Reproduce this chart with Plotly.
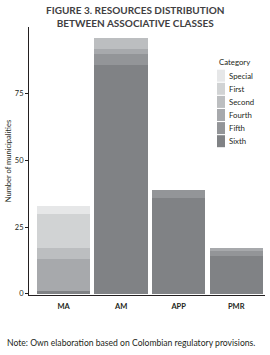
import plotly.graph_objects as go

# ---- data ----
classes = ["MA", "AM", "APP", "PMR"]
categories = ["Sixth", "Fifth", "Fourth", "Second", "First", "Special"]  # bottom -> top
values = {
    "Sixth":   [1, 86, 36, 14],
    "Fifth":   [0, 4, 3, 2],
    "Fourth":  [12, 2, 0, 1],
    "Second":  [4, 4, 0, 0],
    "First":   [13, 0, 0, 0],
    "Special": [3, 0, 0, 0],
}
colors = {
    "Sixth": "#808285",
    "Fifth": "#939598",
    "Fourth": "#a7a9ac",
    "Second": "#bcbec0",
    "First": "#d1d3d4",
    "Special": "#e6e7e8",
}
y_ticks = [0, 25, 50, 75]

W, H = 270, 355
ML, MR, MT, MB = 29, 5, 27, 60
FONT = "Lato"

fig = go.Figure()
for cat in categories:
    fig.add_trace(go.Bar(
        x=classes, y=values[cat], name=cat,
        marker=dict(color=colors[cat], line=dict(width=0)),
        showlegend=False,
    ))

fig.update_layout(
    width=W, height=H,
    margin=dict(l=ML, r=MR, t=MT, b=MB, pad=0),
    barmode="stack", bargap=0.075,
    plot_bgcolor="white", paper_bgcolor="white",
    font=dict(family=FONT, color="#231f20"),
    xaxis=dict(
        range=[-0.6, 3.5], showgrid=False, zeroline=False,
        showline=True, linecolor="#231f20", linewidth=1,
        ticks="", tickfont=dict(size=7.5, color="#231f20", weight="bold"),
        ticklabelstandoff=4,
    ),
    yaxis=dict(
        range=[-0.5, 100.1], showgrid=False, zeroline=False,
        showline=True, linecolor="#231f20", linewidth=1,
        tickvals=y_ticks, ticks="outside", ticklen=3, tickcolor="#231f20",
        tickfont=dict(size=7.5, color="#231f20"),
        title=dict(text="Number of municipalities", font=dict(size=7.5, color="#231f20"), standoff=2),
    ),
)

# title
fig.add_annotation(
    text="<b>FIGURE 3. RESOURCES DISTRIBUTION<br>BETWEEN ASSOCIATIVE CLASSES</b>",
    xref="paper", yref="paper", x=(135 - ML) / (W - ML - MR), y=1 + (MT - 2) / (H - MT - MB),
    xanchor="center", yanchor="top", showarrow=False, align="center",
    font=dict(size=10, color="#414042", family=FONT),
)

# note
fig.add_annotation(
    text="Note: Own elaboration based on Colombian regulatory provisions.",
    xref="paper", yref="paper", x=(5 - ML) / (W - ML - MR), y=-(342.7 - (H - MB)) / (H - MT - MB),
    xanchor="left", yanchor="middle", showarrow=False,
    font=dict(size=8.6, color="#231f20", family=FONT),
)

# manual legend
pw, ph = W - ML - MR, H - MT - MB
def px2paper(px, py):
    return (px - ML) / pw, (H - MB - py) / ph

tx, ty = px2paper(216.5, 62)
fig.add_annotation(text="Category", xref="paper", yref="paper", x=tx, y=ty,
                   xanchor="left", yanchor="middle", showarrow=False,
                   font=dict(size=7.8, color="#231f20"))
legend_order = list(reversed(categories))
for i, cat in enumerate(legend_order):
    cy = 75.7 + i * 13.1
    x0, y0 = px2paper(217, cy - 6)
    x1, y1 = px2paper(225, cy + 6)
    fig.add_shape(type="rect", xref="paper", yref="paper", x0=x0, x1=x1, y0=y1, y1=y0,
                  fillcolor=colors[cat], line=dict(width=0))
    lx, ly = px2paper(226.5, cy)
    fig.add_annotation(text=cat, xref="paper", yref="paper", x=lx, y=ly,
                       xanchor="left", yanchor="middle", showarrow=False,
                       font=dict(size=7.8, color="#231f20"))

fig.write_html("out.html")
